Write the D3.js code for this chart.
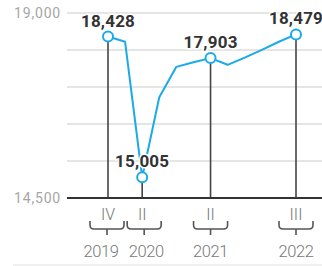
<!DOCTYPE html>
<html>
<head>
<meta charset="utf-8">
<script src="https://cdn.jsdelivr.net/npm/d3@7"></script>
<style>
  body { margin: 0; background: #fff; }
  svg { display: block; font-family: Roboto, "Noto Sans", sans-serif; }
</style>
</head>
<body>
<div id="chart"></div>
<script>
// quarterly values, 2019 Q4 .. 2022 Q3
const quarters = ["2019Q4", "2020Q1", "2020Q2", "2020Q3", "2020Q4", "2021Q1", "2021Q2", "2021Q3", "2021Q4", "2022Q1", "2022Q2", "2022Q3"];
const values = [18428, 18300, 15005, 16950, 17690, 17800, 17903, 17740, 17915, 18105, 18300, 18479];
// highlighted quarters
const marked = ["2019Q4", "2020Q2", "2021Q2", "2022Q3"];
const quarterLabels = ["IV", "II", "II", "III"];
const yearLabels = ["2019", "2020", "2021", "2022"];
const yTicks = [14500, 15400, 16300, 17200, 18100, 19000];
const yTickLabels = ["14,500", "", "", "", "", "19,000"];

let width = 322, height = 266;
let margin = { top: 13, right: 0, bottom: 68, left: 67 };

let svg = d3.select("#chart")
    .append("svg")
    .attr("width", width)
    .attr("height", height);

const x = d3.scalePoint()
    .domain(quarters)
    .range([108, 296]);

const y = d3.scaleLinear()
    .domain([14500, 19000])
    .range([height - margin.bottom, margin.top]);

// grid
svg.selectAll(".grid")
    .data(yTicks.slice(1))
    .join("line")
    .attr("x1", margin.left)
    .attr("x2", width)
    .attr("y1", d => y(d))
    .attr("y2", d => y(d))
    .attr("stroke", "#dcdcdc")
    .attr("stroke-width", 1.5);

svg.selectAll(".ylab")
    .data(yTicks)
    .join("text")
    .attr("x", 61)
    .attr("y", d => y(d))
    .attr("dy", "0.35em")
    .attr("text-anchor", "end")
    .style("font-size", "14px")
    .style("letter-spacing", "0.8px")
    .attr("fill", "#a6a6a6")
    .text((d, i) => yTickLabels[i]);

// drop lines
svg.selectAll(".drop")
    .data(marked)
    .join("line")
    .attr("x1", d => x(d))
    .attr("x2", d => x(d))
    .attr("y1", d => y(values[quarters.indexOf(d)]))
    .attr("y2", y(14500))
    .attr("stroke", "#444")
    .attr("stroke-width", 1.6);

// baseline
svg.append("line")
    .attr("x1", margin.left)
    .attr("x2", width)
    .attr("y1", y(14500))
    .attr("y2", y(14500))
    .attr("stroke", "#333")
    .attr("stroke-width", 2);

// line
const line = d3.line()
    .x((d, i) => x(quarters[i]))
    .y(d => y(d));

svg.append("path")
    .datum(values)
    .attr("d", line)
    .attr("fill", "none")
    .attr("stroke", "#1aaaea")
    .attr("stroke-width", 2)
    .attr("stroke-linejoin", "round");

// value labels
svg.selectAll(".val")
    .data(marked)
    .join("text")
    .attr("x", d => x(d))
    .attr("y", d => y(values[quarters.indexOf(d)]) - 10)
    .attr("text-anchor", "middle")
    .style("font-size", "17px")
    .style("font-weight", "bold")
    .style("letter-spacing", "0.2px")
    .attr("fill", "#333")
    .attr("stroke", "#fff")
    .attr("stroke-width", 3)
    .attr("paint-order", "stroke")
    .text(d => d3.format(",")(values[quarters.indexOf(d)]));

// circles
svg.selectAll(".dot")
    .data(marked)
    .join("circle")
    .attr("cx", d => x(d))
    .attr("cy", d => y(values[quarters.indexOf(d)]))
    .attr("r", 5)
    .attr("fill", "#fff")
    .attr("stroke", "#1aaaea")
    .attr("stroke-width", 2);

// quarter labels
svg.selectAll(".q")
    .data(marked)
    .join("text")
    .attr("x", d => x(d))
    .attr("y", 220)
    .attr("text-anchor", "middle")
    .style("font-size", "16px")
    .style("font-weight", "300")
    .attr("fill", "#777")
    .text((d, i) => quarterLabels[i]);

// braces; the first two are nudged apart so they don't touch
const nudge = (i) => i === 0 ? -1 : i === 1 ? 2 : 0;
svg.selectAll(".brace")
    .data(marked)
    .join("path")
    .attr("d", (d, i) => {
        let cx = x(d) + nudge(i), w = 17;
        return "M" + (cx - w) + ",221 v4 q0,4 4,4 h" + (w - 4) + " v6 M" + cx + ",229 h" + (w - 4) + " q4,0 4,-4 v-4";
    })
    .attr("fill", "none")
    .attr("stroke", "#555")
    .attr("stroke-width", 1.6);

// year labels
svg.selectAll(".yr")
    .data(marked)
    .join("text")
    .attr("x", (d, i) => x(d) + (i === 0 ? -7 : i === 1 ? 4 : 0))
    .attr("y", 257)
    .attr("text-anchor", "middle")
    .style("font-size", "16.5px")
    .style("font-weight", "300")
    .style("letter-spacing", "-0.4px")
    .attr("fill", "#777")
    .text((d, i) => yearLabels[i]);

// bottom rule
svg.append("line")
    .attr("x1", 13)
    .attr("x2", width)
    .attr("y1", 265)
    .attr("y2", 265)
    .attr("stroke", "#e2e2e2")
    .attr("stroke-width", 1);
</script>
</body>
</html>
